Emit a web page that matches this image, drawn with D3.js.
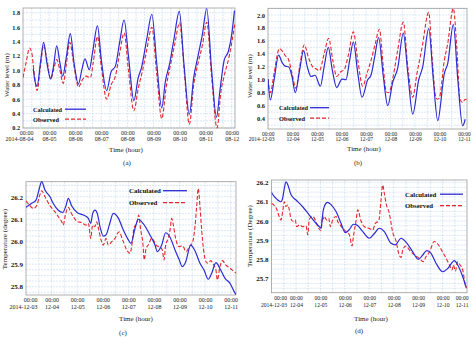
<!DOCTYPE html>
<html>
<head>
<meta charset="utf-8">
<script src="https://cdn.jsdelivr.net/npm/d3@7"></script>
<style>
  html, body { margin: 0; padding: 0; background: #fff; }
  svg { display: block; }
</style>
</head>
<body>
<svg id="chart" width="472" height="338"></svg>
<script>
// tick labels (one per day, 00:00)
let datesAug = ["2014-08-04", "08-05", "08-06", "08-07", "08-08", "08-09", "08-10", "08-11", "08-12"];
let datesDec = ["2014-12-03", "12-04", "12-05", "12-06", "12-07", "12-08", "12-09", "12-10", "12-11"];

let ticksLevelA = [0.2, 0.4, 0.6, 0.8, 1.0, 1.2, 1.4, 1.6, 1.8];
let ticksLevelB = [0.4, 0.6, 0.8, 1.0, 1.2, 1.4, 1.6, 1.8, 2.0];
let ticksTempC = [25.8, 25.9, 26.0, 26.1, 26.2];
let ticksTempD = [25.7, 25.8, 25.9, 26.0, 26.1, 26.2];

// series: [hours since first tick, value]
let levelCalcA = [[9.5,1.02],[11,0.85],[13,0.78],[16,1.1],[19,1.39],[22,1.1],[25.5,0.88],[28,1.05],[31,1.34],[34,1.1],[36.5,0.92],[40,1.2],[43.5,1.51],[47,1.1],[51,0.81],[54,1.0],[57,1.16],[61,1.01],[64,1.25],[68.5,1.62],[72,1.15],[77,0.72],[81,0.98],[85,1.06],[89,1.4],[93,1.70],[97,1.2],[102,0.58],[106,0.9],[109,1.04],[114,1.45],[118.5,1.78],[123,1.1],[127.6,0.48],[131,0.85],[135,1.1],[139,1.45],[143.8,1.82],[148,1.1],[153,0.39],[157,0.9],[161,1.2],[165,1.5],[169,1.86],[173.5,1.0],[178,0.35],[181,0.7],[185,1.14],[189,1.27],[192,1.5],[194.5,1.83]];
let levelObsA = [[0,0.90],[3,1.12],[6,1.31],[8,1.25],[10,1.0],[13,0.72],[16,1.05],[19,1.35],[22,1.15],[25.5,0.88],[28,1.0],[31,1.15],[34,1.0],[37,0.82],[40,1.1],[43,1.39],[47,1.05],[51,0.77],[55,0.88],[58,0.92],[62,0.90],[64.5,1.1],[68.5,1.47],[72,1.05],[77,0.60],[81,0.8],[85,0.92],[89,1.25],[93,1.52],[97,1.0],[102,0.44],[106,0.75],[110,1.0],[114,1.3],[118.5,1.60],[123,0.95],[127.6,0.33],[132,0.8],[136,1.1],[140,1.4],[144,1.66],[148.5,0.95],[153,0.25],[157,0.8],[161,1.1],[165,1.35],[169,1.67],[173.5,0.9],[178.5,0.20],[182,0.7],[185,0.92],[190,1.22],[195,1.67]];

let levelCalcB = [[0,1.01],[2.3,0.69],[6,1.0],[10.4,1.38],[14,1.26],[17,1.21],[20.2,1.20],[23.5,1.05],[26.8,0.80],[31,1.15],[34.9,1.45],[38.5,1.2],[42.1,1.05],[46.1,1.07],[51.3,0.90],[55,1.2],[59.1,1.50],[63,1.15],[67.3,0.88],[72.5,1.01],[76.4,1.00],[80,1.3],[83.6,1.58],[88,1.1],[92.1,0.73],[97.7,1.0],[100.9,1.07],[104.5,1.35],[108.4,1.65],[113,1.05],[117.3,0.60],[122.2,0.96],[127.1,1.18],[132.6,1.72],[137,1.1],[141.8,0.47],[147.7,1.0],[151.6,1.2],[157.5,1.79],[162,1.0],[166.3,0.37],[172.8,1.1],[176.1,1.25],[181.6,1.85],[186,1.0],[190.7,0.29],[193.3,0.39]];
let levelObsB = [[0,1.01],[2.3,0.80],[6,1.1],[11.1,1.48],[15,1.42],[17,1.37],[20.2,1.31],[23.5,1.1],[27.4,0.87],[31,1.2],[35.6,1.54],[39.5,1.35],[43.8,1.20],[47,1.17],[50.3,1.14],[55,1.4],[59.5,1.64],[63.5,1.3],[67.3,1.05],[71,1.12],[74.8,1.16],[79,1.4],[83.6,1.74],[88,1.3],[92.8,0.90],[97,1.1],[101,1.3],[105,1.55],[109.1,1.78],[113,1.2],[115.6,0.83],[117.3,0.80],[118.9,0.81],[122,1.0],[127,1.45],[132.6,1.89],[137,1.2],[141.8,0.73],[146,1.1],[151,1.5],[157.5,2.04],[161,1.3],[164.6,0.72],[166.3,0.70],[167.9,0.72],[172.8,1.3],[176,1.55],[181.6,2.10],[185,1.5],[188.1,0.70],[190.7,0.65],[193.3,0.70],[195,0.68]];

let tempCalcC = [[0,26.153],[5.3,26.171],[9.4,26.185],[12.5,26.237],[14.7,26.267],[17.8,26.23],[22.5,26.2],[25.6,26.17],[30.3,26.14],[34.4,26.13],[37.5,26.16],[39.7,26.193],[42.8,26.16],[48.2,26.129],[53.8,26.119],[58.5,26.104],[60.7,26.082],[62.5,26.125],[64.7,26.141],[66.9,26.125],[69.4,26.067],[72.5,26.025],[75,26.03],[78.2,26.075],[81.9,26.126],[86.6,26.105],[91.3,26.052],[96,26.008],[98.5,25.993],[102.3,26.06],[105.4,26.1],[110,26.08],[116.3,26.03],[121,25.985],[123.2,25.956],[127.3,25.985],[131,26.04],[135.1,26.02],[139.8,25.963],[143.8,25.919],[146.6,25.889],[149.8,25.91],[154.5,25.985],[158.5,25.96],[163.2,25.904],[167,25.874],[171,25.833],[174.2,25.86],[178.2,25.907],[182,25.88],[186.7,25.837],[191.4,25.815],[196.1,25.771],[197,25.765]];
let tempObsC = [[0,26.182],[3.75,26.16],[6.9,26.148],[10,26.16],[12.5,26.2],[14.7,26.227],[17.8,26.2],[22.5,26.16],[27.2,26.133],[30.3,26.111],[33.5,26.089],[35,26.074],[36.6,26.111],[39.7,26.153],[41.9,26.133],[44.4,26.111],[48.2,26.09],[52.2,26.085],[56.3,26.074],[58.5,26.082],[60.7,26.015],[62.5,26.074],[64.7,26.067],[66.3,26.089],[67.9,26.06],[70.4,26.008],[72.5,25.985],[75,26.015],[77.2,25.985],[80.4,26.0],[83.5,26.015],[87.2,26.044],[90.7,26.008],[94.5,25.963],[97.6,25.948],[99.1,25.978],[101.3,26.06],[103.8,26.082],[105.7,26.119],[107.6,26.052],[109.5,26.0],[111,25.919],[112.6,25.97],[114.7,25.985],[117.9,26.015],[120.4,26.0],[122.6,25.982],[125.1,25.978],[127.9,25.963],[129.5,25.919],[131,25.985],[133.5,26.015],[135.1,26.052],[136.7,26.104],[138.2,26.074],[140.7,26.008],[143.5,25.978],[147,25.982],[150.1,25.956],[153.2,25.978],[156.4,26.0],[158.5,26.067],[160.1,26.156],[161.6,26.237],[163.2,26.156],[164.8,26.052],[167,25.948],[168.9,25.911],[171,25.904],[173.3,25.916],[175.7,25.9],[178.2,25.874],[179.5,25.83],[182,25.89],[184.5,25.916],[186.7,25.9],[191.4,25.882],[197,25.86]];

let tempCalcD = [[0,26.148],[2.8,26.126],[6.1,26.109],[9.3,26.1],[11,26.12],[12.6,26.17],[14.2,26.204],[15.9,26.19],[19.2,26.136],[24.1,26.109],[30.6,26.074],[37.1,26.031],[43.7,25.988],[47,25.97],[48.6,25.962],[49.6,26.0],[50.9,26.058],[53.5,26.092],[55.2,26.097],[58.4,26.085],[63.4,26.049],[68.3,25.988],[72.5,25.939],[76.4,25.955],[80.4,25.983],[83.7,25.98],[88.9,25.95],[96.1,25.91],[101,25.935],[105.9,25.962],[110.8,25.945],[117.4,25.884],[121.6,25.876],[127.2,25.91],[132.1,25.89],[138.7,25.84],[144.2,25.8],[148.5,25.823],[152.5,25.846],[156.7,25.832],[161.6,25.78],[168.2,25.736],[173.1,25.753],[179.6,25.794],[182.9,25.771],[187.8,25.71],[191.1,25.655]];
let tempObsD = [[0,26.092],[2.8,26.08],[5.4,26.058],[7.7,26.02],[9.3,26.005],[11,26.05],[12.6,26.1],[14.2,26.075],[15.9,26.083],[17.5,26.058],[19.2,26.01],[21.4,25.997],[23.4,26.005],[24.7,25.97],[27.3,25.98],[30.6,25.97],[33.9,25.974],[35.6,25.928],[37.1,26.009],[40.5,26.023],[43,26.005],[45.4,25.971],[48.6,25.95],[50.3,26.023],[50.9,26.01],[51.9,26.023],[54.2,26.005],[56.2,26.014],[57.8,25.97],[60.1,26.005],[63.4,26.023],[65,25.997],[67.3,25.98],[69.9,25.962],[73.2,25.945],[76.4,25.93],[79.1,25.87],[80.4,25.918],[83,26.0],[84.7,26.058],[87.9,26.0],[91.2,25.97],[95.5,25.962],[99.4,25.953],[102,25.988],[105.3,26.0],[107.6,26.11],[109.2,26.187],[110.8,26.144],[112.5,26.092],[115.7,26.04],[119.1,25.94],[122.3,25.896],[124.9,25.832],[127.2,25.81],[128.9,25.85],[132.1,25.87],[135.4,25.85],[140.3,25.824],[145.2,25.806],[149.1,25.788],[151.8,25.815],[155,25.837],[159.9,25.893],[163.2,25.881],[168.2,25.837],[172.1,25.8],[174.7,25.771],[177.3,25.745],[178.6,25.771],[180.6,25.74],[182.9,25.788],[185.2,25.771],[187.8,25.745],[190.4,25.667],[191.8,25.65]];

const FONT = "'Liberation Serif', 'Times New Roman', serif";
const BLUE = "#2c2cd2";
const RED = "#e3262b";

var svg = d3.select("#chart");

function drawPanel(p) {
    var g = svg.append("g");
    var x = d3.scaleLinear().domain([0, p.hours]).range([p.left, p.right]);
    var y = d3.scaleLinear().domain(p.yDomain).range([p.bottom, p.top]);

    // grid
    var hLines = d3.range(Math.ceil(p.yDomain[0] / p.yStep - 1e-6), Math.floor(p.yDomain[1] / p.yStep + 1e-6) + 1)
        .map(k => k * p.yStep);
    g.append("g").selectAll("line").data(hLines).enter().append("line")
        .attr("x1", p.left).attr("x2", p.right)
        .attr("y1", d => y(d)).attr("y2", d => y(d))
        .attr("stroke", "#c2d6ee").attr("stroke-width", 0.6).attr("stroke-dasharray", "2,1");
    var vLines = d3.range(p.xStep, p.hours, p.xStep);
    g.append("g").selectAll("line").data(vLines).enter().append("line")
        .attr("y1", p.top).attr("y2", p.bottom)
        .attr("x1", d => x(d)).attr("x2", d => x(d))
        .attr("stroke", "#c2d6ee").attr("stroke-width", 0.6).attr("stroke-dasharray", "2,1");

    g.append("rect")
        .attr("x", p.left).attr("y", p.top)
        .attr("width", p.right - p.left).attr("height", p.bottom - p.top)
        .attr("fill", "none").attr("stroke", "#9c9c9c").attr("stroke-width", 0.8);

    // y axis
    var yAxis = g.append("g").attr("transform", "translate(" + p.left + ",0)")
        .call(d3.axisLeft(y).tickValues(p.yTicks).tickSize(0).tickPadding(3).tickFormat(d3.format(".1f")));
    yAxis.select(".domain").remove();
    yAxis.selectAll("text")
        .attr("font-family", FONT).attr("font-size", p.yFont)
        .attr("font-weight", "bold").attr("fill", "#111");

    // x axis, two-line labels
    var xAxis = g.append("g").attr("transform", "translate(0," + p.bottom + ")")
        .call(d3.axisBottom(x).tickValues(p.dates.map((d, i) => i * 24)).tickSize(0).tickFormat(""));
    xAxis.select(".domain").remove();
    xAxis.selectAll(".tick text").each(function(d, i) {
        var t = d3.select(this)
            .attr("y", null).attr("dy", null)
            .attr("font-family", FONT).attr("font-size", p.xFont).attr("fill", "#222");
        var dx = 0;
        if (i == 0 && p.firstAnchor) { t.attr("text-anchor", p.firstAnchor); dx = p.firstDx; }
        if (i == p.dates.length - 1 && p.lastAnchor) { t.attr("text-anchor", p.lastAnchor); dx = p.lastDx; }
        t.append("tspan").attr("x", dx).attr("y", p.tickY1).text("00:00");
        t.append("tspan").attr("x", dx).attr("y", p.tickY2).text(p.dates[i]);
    });

    // lines
    var clipId = "clip-" + p.tag.replace(/[()]/g, "");
    g.append("clipPath").attr("id", clipId).append("rect")
        .attr("x", p.left).attr("y", p.top - 1)
        .attr("width", p.right - p.left).attr("height", p.bottom - p.top + 2);
    var line = d3.line().x(d => x(d[0])).y(d => y(d[1])).curve(d3.curveMonotoneX);
    g.append("path").datum(p.obs).attr("d", line).attr("clip-path", "url(#" + clipId + ")")
        .attr("fill", "none").attr("stroke", RED).attr("stroke-width", 1.1).attr("stroke-dasharray", "4,2");
    g.append("path").datum(p.calc).attr("d", line).attr("clip-path", "url(#" + clipId + ")")
        .attr("fill", "none").attr("stroke", BLUE).attr("stroke-width", 1.2);

    // legend
    var items = [["Calculated", BLUE, null], ["Observed", RED, "4,2"]];
    items.forEach(function(it, i) {
        var by = p.legY + i * p.legGap;
        g.append("text").attr("x", p.legX).attr("y", by).text(it[0])
            .attr("font-family", FONT).attr("font-weight", "bold").attr("font-size", p.legFont).attr("fill", "#111");
        g.append("line").attr("x1", p.legLine[0]).attr("x2", p.legLine[1])
            .attr("y1", by - 2.3).attr("y2", by - 2.3)
            .attr("stroke", it[1]).attr("stroke-width", 1.3).attr("stroke-dasharray", it[2]);
    });

    // titles
    g.append("text").attr("transform", "translate(" + p.yTitleX + "," + p.yTitleY + ") rotate(-90)")
        .attr("text-anchor", "middle").attr("dy", "0.35em")
        .attr("font-family", FONT).attr("font-size", 7).attr("fill", "#222").text(p.yTitle);
    g.append("text").attr("x", p.xTitleX).attr("y", p.xTitleY).attr("text-anchor", "middle")
        .attr("font-family", FONT).attr("font-size", 7).attr("fill", "#222").text("Time (hour)");
    g.append("text").attr("x", p.tagX).attr("y", p.tagY).attr("text-anchor", "middle")
        .attr("font-family", FONT).attr("font-size", 7).attr("fill", "#222").text(p.tag);
}

drawPanel({
    tag: "(a)", calc: levelCalcA, obs: levelObsA, dates: datesAug, yTicks: ticksLevelA,
    left: 23, right: 235, top: 8, bottom: 128, hours: 195, yDomain: [0.2, 1.867],
    yStep: 0.1, xStep: 8, yFont: 6.2, xFont: 6,
    tickY1: 6.5, tickY2: 12.5, firstAnchor: "end", firstDx: 10,
    legX: 33, legY: 111.5, legGap: 10, legLine: [65, 86], legFont: 6.3,
    yTitle: "Water level (m)", yTitleX: 6.5, yTitleY: 75,
    xTitleX: 126, xTitleY: 151.5, tagX: 127, tagY: 165
});

drawPanel({
    tag: "(b)", calc: levelCalcB, obs: levelObsB, dates: datesDec, yTicks: ticksLevelB,
    left: 268, right: 467, top: 8.3, bottom: 129, hours: 195, yDomain: [0.24, 2.103],
    yStep: 0.1, xStep: 12, yFont: 6.4, xFont: 5.5,
    tickY1: 7, tickY2: 12, firstAnchor: "end", firstDx: 6,
    legX: 279, legY: 110, legGap: 10.5, legLine: [310, 329], legFont: 6.3,
    yTitle: "Water level (m)", yTitleX: 249.5, yTitleY: 76,
    xTitleX: 364, xTitleY: 151, tagX: 358, tagY: 165
});

drawPanel({
    tag: "(c)", calc: tempCalcC, obs: tempObsC, dates: datesDec, yTicks: ticksTempC,
    left: 26, right: 236, top: 181.7, bottom: 295, hours: 197, yDomain: [25.763, 26.267],
    yStep: 0.025, xStep: 12, yFont: 7, xFont: 6,
    tickY1: 7.3, tickY2: 14, firstAnchor: "end", firstDx: 11,
    legX: 129, legY: 193, legGap: 12, legLine: [163, 187], legFont: 6.9,
    yTitle: "Temperature (degree)", yTitleX: 5, yTitleY: 239,
    xTitleX: 136, xTitleY: 321, tagX: 123, tagY: 335
});

drawPanel({
    tag: "(d)", calc: tempCalcD, obs: tempObsD, dates: datesDec, yTicks: ticksTempD,
    left: 271.5, right: 467, top: 180, bottom: 292.7, hours: 192, yDomain: [25.627, 26.213],
    yStep: 0.025, xStep: 12, yFont: 7, xFont: 5.6,
    tickY1: 7.8, tickY2: 14.8, firstAnchor: "end", firstDx: 15, lastAnchor: "end", lastDx: 1,
    legX: 405, legY: 196.5, legGap: 11.5, legLine: [440, 463], legFont: 6.8,
    yTitle: "Temperature (Degree)", yTitleX: 249.5, yTitleY: 236,
    xTitleX: 371, xTitleY: 321, tagX: 359, tagY: 333
});
</script>
</body>
</html>
